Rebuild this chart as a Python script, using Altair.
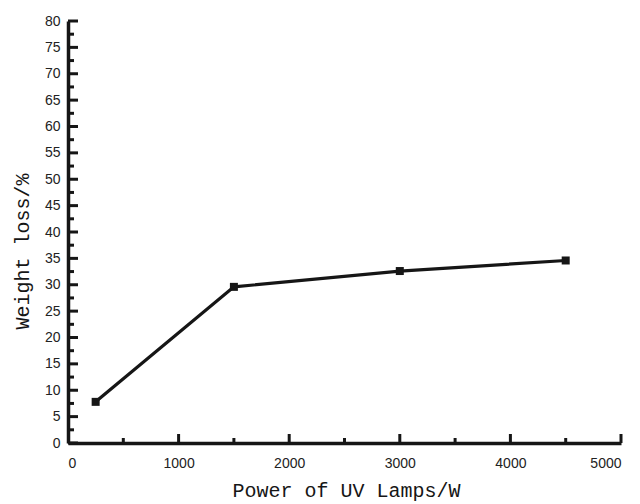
import altair as alt
import pandas as pd

# data
power = [250, 1500, 3000, 4500]
weight_loss = [7.8, 29.6, 32.6, 34.6]

y_major = list(range(0, 85, 5))
y_minor = [2.5 + 5 * i for i in range(16)]
x_major = [1000, 2000, 3000, 4000, 5000]
x_minor = [500, 1500, 2500, 3500, 4500]

W, H = 553, 422
INK = "#161616"

df = pd.DataFrame({"power": power, "loss": weight_loss})
xs = alt.Scale(domain=[0, 5000], nice=False, zero=False)
ys = alt.Scale(domain=[0, 80], nice=False, zero=False)

xaxis = alt.Axis(values=[0, 1000, 2000, 3000, 4000, 5000], format="d",
                 title="Power of UV Lamps/W", labelPadding=13,
                 titleX=278, titleY=47, titleBaseline="middle", titleAlign="center")
yaxis = alt.Axis(values=y_major, format="d", title="Weight loss/%",
                 labelPadding=8, titleAngle=270, titleX=-46, titleY=230,
                 titleBaseline="middle", titleAlign="center")

base = alt.Chart(df).encode(
    x=alt.X("power:Q", scale=xs, axis=xaxis),
    y=alt.Y("loss:Q", scale=ys, axis=yaxis),
)

line = base.mark_line(color=INK, strokeWidth=3.2)
pts = base.mark_square(color=INK, size=64, opacity=1)

ymaj = alt.Chart(pd.DataFrame({"loss": y_major})).mark_rule(color=INK, strokeWidth=3).encode(
    y=alt.Y("loss:Q", scale=ys, axis=yaxis), x=alt.value(0), x2=alt.value(10))
ymin = alt.Chart(pd.DataFrame({"loss": y_minor})).mark_rule(color=INK, strokeWidth=3).encode(
    y=alt.Y("loss:Q", scale=ys, axis=yaxis), x=alt.value(0), x2=alt.value(6))
xmaj = alt.Chart(pd.DataFrame({"power": x_major})).mark_rule(color=INK, strokeWidth=3).encode(
    x=alt.X("power:Q", scale=xs, axis=xaxis), y=alt.value(H), y2=alt.value(H - 9))
xmin = alt.Chart(pd.DataFrame({"power": x_minor})).mark_rule(color=INK, strokeWidth=3).encode(
    x=alt.X("power:Q", scale=xs, axis=xaxis), y=alt.value(H), y2=alt.value(H - 5))

chart = alt.layer(line, pts, ymaj, ymin, xmaj, xmin).properties(
    width=W, height=H,
    autosize=alt.AutoSizeParams(type="none"),
    padding={"left": 68, "top": 21, "right": 19, "bottom": 61},
    background="white",
).configure_view(stroke=None).configure_axis(
    grid=False, tickSize=0, domainColor=INK, domainWidth=3.5,
    labelColor="#222222", labelFont="Liberation Sans", labelFontSize=14,
    titleFont="Liberation Mono", titleFontSize=20, titleFontWeight="normal",
    titleColor=INK,
)

chart.save("out.html", embed_options={"renderer": "svg", "actions": False})
